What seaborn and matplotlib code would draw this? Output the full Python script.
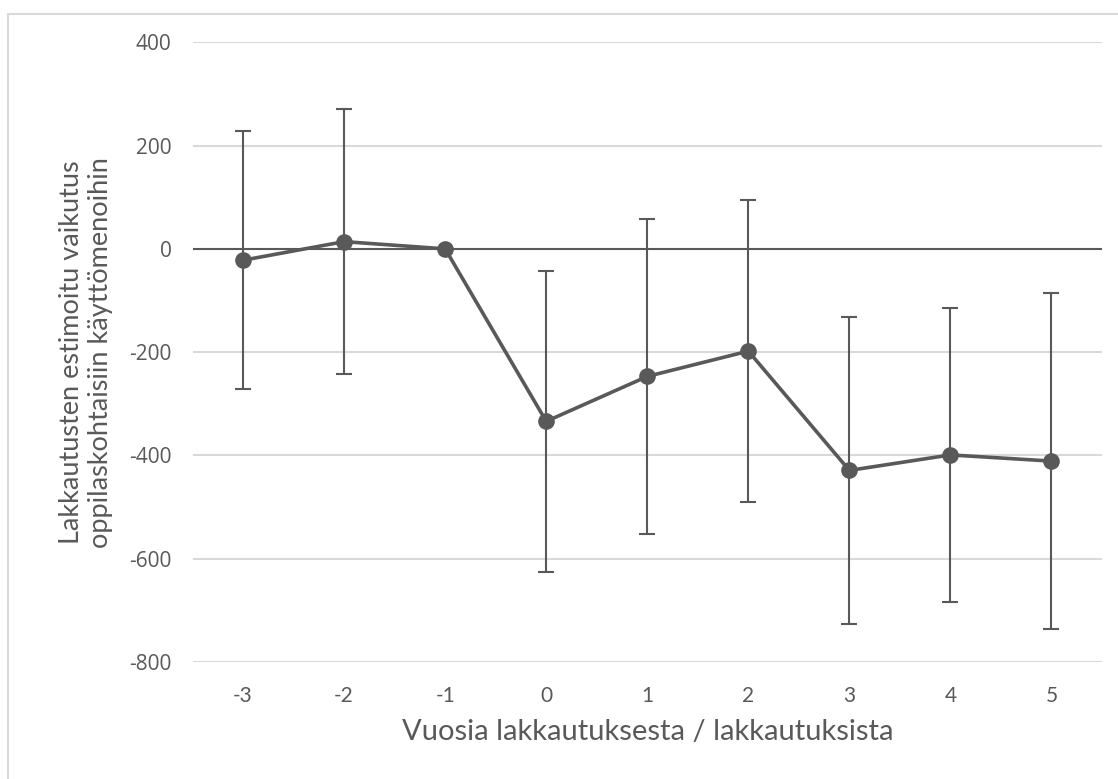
import matplotlib
matplotlib.use("Agg")
import matplotlib.pyplot as plt
from matplotlib.lines import Line2D
import seaborn as sns
import pandas as pd

# Event-study estimates: years relative to closure, point estimate and CI half-width
years = ["-3", "-2", "-1", "0", "1", "2", "3", "4", "5"]
estimates = [-22, 14, 0, -334, -247, -198, -429, -399, -411]
ci_half = [250, 256, 0, 292, 305, 292, 297, 285, 325]

y_ticks = [400, 200, 0, -200, -400, -600, -800]
x_title = "Vuosia lakkautuksesta / lakkautuksista"
y_title = "Lakkautusten estimoitu vaikutus\noppilaskohtaisiin käyttömenoihin"

sns.set_theme(style="white")
plt.rcParams["font.family"] = ["Lato", "DejaVu Sans"]

dark = "#595959"
grid = "#d9d9d9"

df = pd.DataFrame({"pos": range(len(years)), "est": estimates, "err": ci_half})

fig = plt.figure(figsize=(11.18, 7.79), dpi=100)
ax = fig.add_axes([0.1722, 0.1502, 0.8135, 0.7955])

# horizontal gridlines and the zero line
for t in y_ticks:
    ax.axhline(t, color=dark if t == 0 else grid, lw=1.5, zorder=0)

ax.errorbar(df["pos"], df["est"], yerr=df["err"], fmt="none",
            ecolor=dark, elinewidth=1.5, capsize=6, capthick=1.5, zorder=2)
sns.lineplot(data=df, x="pos", y="est", ax=ax, color=dark, lw=2.6,
             marker="o", markersize=12, markeredgewidth=0, zorder=3)

ax.set_xlim(-0.5, len(years) - 0.5)
ax.set_ylim(-800, 400)
ax.set_xticks(df["pos"])
ax.set_xticklabels(years, fontsize=15)
ax.set_yticks(y_ticks)
ax.set_yticklabels([str(t) for t in y_ticks], fontsize=15,
                   family=["Open Sans", "DejaVu Sans"])
ax.tick_params(axis="both", length=0, labelcolor=dark)
ax.tick_params(axis="x", pad=17)
ax.tick_params(axis="y", pad=15)
for s in ax.spines.values():
    s.set_visible(False)

ax.set_xlabel(x_title, fontsize=21, color=dark, labelpad=10)
ax.set_ylabel(y_title, fontsize=19.5, color=dark, labelpad=12, linespacing=1.2)

# light chart-area border
fig.add_artist(Line2D([8 / 1118, 8 / 1118], [0, 1 - 14 / 779],
                      transform=fig.transFigure, color=grid, lw=1.5))
fig.add_artist(Line2D([8 / 1118, 1], [1 - 14 / 779, 1 - 14 / 779],
                      transform=fig.transFigure, color=grid, lw=1.5))

fig.savefig("out.png", dpi=100, facecolor="white")
